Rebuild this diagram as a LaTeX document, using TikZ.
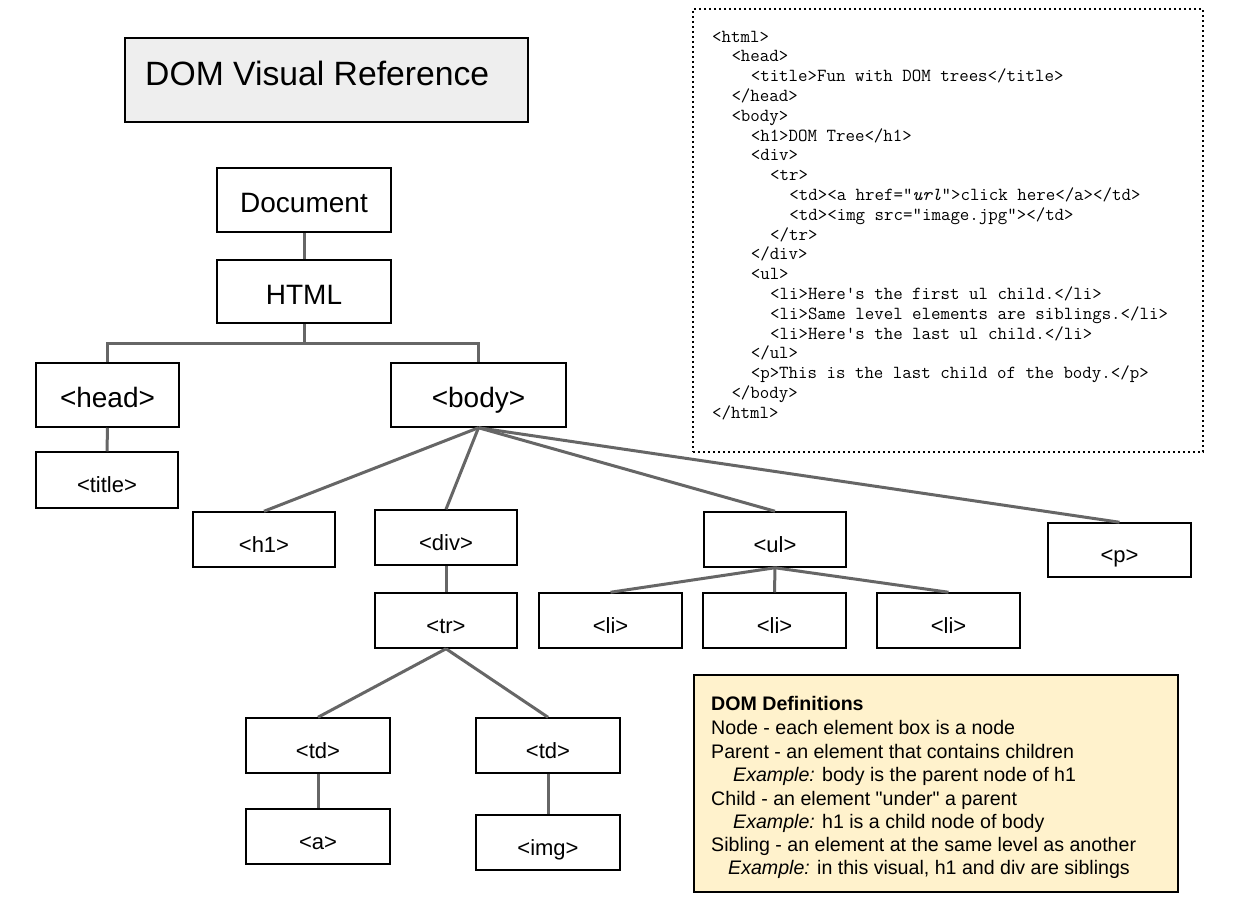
\documentclass[tikz,border=0pt]{standalone}
\usepackage{fontspec}
\setmainfont{Liberation Sans}
\definecolor{linkgray}{HTML}{666666}
\definecolor{titlefill}{HTML}{EEEEEE}
\definecolor{deffill}{HTML}{FFF2CC}
\begin{document}
\begin{tikzpicture}[x=1pt,y=-1pt,
  box/.style={draw=black, line width=1.5pt, fill=white, inner sep=0pt, align=center, text height=25pt, text depth=0pt},
  big/.style={box, font=\fontsize{28}{30}\selectfont},
  small/.style={box, font=\fontsize{22}{24}\selectfont},
  link/.style={draw=linkgray, line width=3pt, line join=miter},
  codeline/.style={anchor=base west, inner sep=0pt, font=\ttfamily\fontsize{18.4}{19.8}\selectfont},
  defline/.style={anchor=base west, inner sep=0pt, font=\fontsize{19.6}{23.5}\selectfont},
]
\useasboundingbox (0,0) rectangle (1248,905);
\fill[white] (0,0) rectangle (1248,905);

% title
\node[draw=black, line width=1.5pt, fill=titlefill, minimum width=403, minimum height=84]
  (ttl) at (326.5,80) {};
\node[anchor=base west, inner sep=0pt, font=\fontsize{33.7}{36}\selectfont]
  (ttltext) at (145,85) {DOM Visual Reference};

% code box
\node[draw=black, line width=1.6pt, dash pattern=on 1.6pt off 3.4pt, minimum width=510, minimum height=443]
  (code) at (948,230.5) {};
\node[codeline] (c0) at (712.0,42.0) {<html>};
\node[codeline] (c1) at (731.3,61.8) {<head>};
\node[codeline] (c2) at (750.6,81.6) {<title>Fun with DOM trees</title>};
\node[codeline] (c3) at (731.3,101.4) {</head>};
\node[codeline] (c4) at (731.3,121.2) {<body>};
\node[codeline] (c5) at (750.6,141.0) {<h1>DOM Tree</h1>};
\node[codeline] (c6) at (750.6,160.8) {<div>};
\node[codeline] (c7) at (769.9,180.6) {<tr>};
\node[codeline] (c8) at (789.2,200.4) {<td><a href=\textquotedbl\textit{url}\textquotedbl>click here</a></td>};
\node[codeline] (c9) at (789.2,220.2) {<td><img src=\textquotedbl image.jpg\textquotedbl></td>};
\node[codeline] (c10) at (769.9,240.0) {</tr>};
\node[codeline] (c11) at (750.6,259.8) {</div>};
\node[codeline] (c12) at (750.6,279.6) {<ul>};
\node[codeline] (c13) at (769.9,299.4) {<li>Here\textquotesingle s the first ul child.</li>};
\node[codeline] (c14) at (769.9,319.2) {<li>Same level elements are siblings.</li>};
\node[codeline] (c15) at (769.9,339.0) {<li>Here\textquotesingle s the last ul child.</li>};
\node[codeline] (c16) at (750.6,358.8) {</ul>};
\node[codeline] (c17) at (750.6,378.6) {<p>This is the last child of the body.</p>};
\node[codeline] (c18) at (731.3,398.4) {</body>};
\node[codeline] (c19) at (712.0,418.2) {</html>};

% definitions box
\node[draw=black, line width=1.5pt, fill=deffill, minimum width=484, minimum height=217]
  (defs) at (936,783.5) {};
\node[defline, font=\bfseries\fontsize{19.6}{23.5}\selectfont] (d0) at (711,710) {DOM Definitions};
\node[defline] (d1) at (711,734) {Node - each element box is a node};
\node[defline] (d2) at (711,758) {Parent - an element that contains children};
\node[defline] (d3) at (733,781) {\textit{Example:} body is the parent node of h1};
\node[defline] (d4) at (711,805) {Child - an element \textquotedbl under\textquotedbl\ a parent};
\node[defline] (d5) at (733,828) {\textit{Example:} h1 is a child node of body};
\node[defline] (d6) at (711,851) {Sibling - an element at the same level as another};
\node[defline] (d7) at (728,874) {\textit{Example:} in this visual, h1 and div are siblings};

% tree nodes
\node[big, minimum width=174, minimum height=64] (doc) at (304,200) {Document};
\node[big, minimum width=174, minimum height=63] (html) at (304,291.5) {HTML};
\node[big, minimum width=143, minimum height=64] (head) at (107.5,395) {<head>};
\node[big, minimum width=175, minimum height=64] (body) at (478.5,395) {<body>};
\node[small, minimum width=142, minimum height=56] (title) at (107,480) {<title>};
\node[small, minimum width=142, minimum height=55] (h1) at (264,539.5) {<h1>};
\node[small, minimum width=142, minimum height=55] (div) at (446,537.5) {<div>};
\node[small, minimum width=142, minimum height=55] (ul) at (775,539.5) {<ul>};
\node[small, minimum width=143, minimum height=54] (p) at (1119.5,550) {<p>};
\node[small, minimum width=142, minimum height=55] (tr) at (446,620.5) {<tr>};
\node[small, minimum width=143, minimum height=55] (li1) at (610.5,620.5) {<li>};
\node[small, minimum width=143, minimum height=55] (li2) at (774.5,620.5) {<li>};
\node[small, minimum width=143, minimum height=55] (li3) at (948.5,620.5) {<li>};
\node[small, minimum width=144, minimum height=55] (td1) at (318,745.5) {<td>};
\node[small, minimum width=144, minimum height=55] (td2) at (548,745.5) {<td>};
\node[small, minimum width=144, minimum height=55] (a) at (318,836.5) {<a>};
\node[small, minimum width=144, minimum height=55] (img) at (548,842.5) {<img>};

% connectors
\draw[link] (doc.south) -- (html.north);
\draw[link] (html.south) -- ++(0,20) coordinate (j);
\draw[link] (head.north) |- (j) -| (body.north);
\draw[link] (head.south) -- (title.north);
\draw[link] (body.south) -- (h1.north);
\draw[link] (body.south) -- (div.north);
\draw[link] (body.south) -- (ul.north);
\draw[link] (body.south) -- (p.north);
\draw[link] (div.south) -- (tr.north);
\draw[link] (ul.south) -- (li1.north);
\draw[link] (ul.south) -- (li2.north);
\draw[link] (ul.south) -- (li3.north);
\draw[link] (tr.south) -- (td1.north);
\draw[link] (tr.south) -- (td2.north);
\draw[link] (td1.south) -- (a.north);
\draw[link] (td2.south) -- (img.north);
\end{tikzpicture}
\end{document}
